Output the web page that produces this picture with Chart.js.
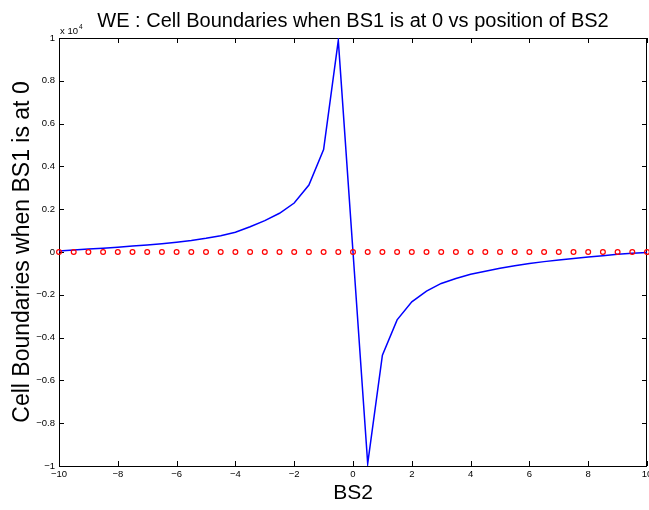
<!DOCTYPE html>
<html>
<head>
<meta charset="utf-8">
<script src="https://cdn.jsdelivr.net/npm/chart.js@4.4.0/dist/chart.umd.min.js"></script>
<style>
  html, body { margin: 0; padding: 0; background: #ffffff; }
  #wrap { width: 649px; height: 510px; }
</style>
</head>
<body>
<div id="wrap"><canvas id="c" width="649" height="510"></canvas></div>
<script>
const xValues = [-10, -9.5, -9, -8.5, -8, -7.5, -7, -6.5, -6, -5.5, -5, -4.5, -4, -3.5, -3, -2.5, -2, -1.5, -1, -0.5,
                 0, 0.5, 1, 1.5, 2, 2.5, 3, 3.5, 4, 4.5, 5, 5.5, 6, 6.5, 7, 7.5, 8, 8.5, 9, 9.5, 10];
const boundaryValues = [50, 90, 140, 180, 225, 275, 330, 390, 460, 540, 640, 760, 920, 1180, 1465, 1810, 2290, 3130, 4790, 9890,
                        0, -9890, -4820, -3170, -2330, -1830, -1470, -1240, -1040, -900, -760, -640, -540, -450, -370, -300, -230, -170, -110, -60, -20];
const markerValues = [0, 0, 0, 0, 0, 0, 0, 0, 0, 0, 0, 0, 0, 0, 0, 0, 0, 0, 0, 0,
                      0, 0, 0, 0, 0, 0, 0, 0, 0, 0, 0, 0, 0, 0, 0, 0, 0, 0, 0, 0, 0];
const xTickValues = [-10, -8, -6, -4, -2, 0, 2, 4, 6, 8, 10];
const yTickValues = [-10000, -8000, -6000, -4000, -2000, 0, 2000, 4000, 6000, 8000, 10000];

const titleText = 'WE : Cell Boundaries when BS1 is at 0 vs position of BS2';
const xTitle = 'BS2';
const yTitle = 'Cell Boundaries when BS1 is at 0';
const FONT = '"Liberation Sans", Arial, Helvetica, sans-serif';

function fmt(v) {
  return String(v).replace('-', '\u2212');
}

const boxPlugin = {
  id: 'matlabBox',
  beforeDatasetsDraw(chart) {
    const {ctx, chartArea: a, scales} = chart;
    ctx.save();
    ctx.strokeStyle = '#000';
    ctx.lineWidth = 1;
    ctx.strokeRect(a.left + 0.5, a.top + 0.5, a.right - a.left - 1, a.bottom - a.top);
    const tl = 5;
    ctx.beginPath();
    scales.x.ticks.forEach(t => {
      const px = Math.round(scales.x.getPixelForValue(t.value)) + 0.5;
      ctx.moveTo(px, a.bottom); ctx.lineTo(px, a.bottom - tl);
      ctx.moveTo(px, a.top); ctx.lineTo(px, a.top + tl);
    });
    scales.y.ticks.forEach(t => {
      const py = Math.round(scales.y.getPixelForValue(t.value)) + 0.5;
      ctx.moveTo(a.left, py); ctx.lineTo(a.left + tl, py);
      ctx.moveTo(a.right, py); ctx.lineTo(a.right - tl, py);
    });
    ctx.stroke();
    // x tick labels
    ctx.fillStyle = '#000';
    ctx.font = '9.5px ' + FONT;
    ctx.textAlign = 'center';
    ctx.textBaseline = 'top';
    scales.x.ticks.forEach(t => {
      const px = scales.x.getPixelForValue(t.value);
      ctx.fillText(fmt(t.value), px, a.bottom + 4);
    });
    ctx.restore();
  },
  afterDraw(chart) {
    const {ctx, chartArea: a} = chart;
    ctx.save();
    ctx.fillStyle = '#000';
    ctx.textBaseline = 'alphabetic';
    ctx.textAlign = 'center';
    ctx.font = '20px ' + FONT;
    ctx.fillText(titleText, (a.left + a.right) / 2, 27);
    ctx.textAlign = 'left';
    ctx.font = '9.5px ' + FONT;
    ctx.fillText('x 10', a.left + 1, 34);
    const w = ctx.measureText('x 10').width;
    ctx.font = '6.5px ' + FONT;
    ctx.fillText('4', a.left + 1 + w + 1, 29);
    ctx.restore();
  }
};

new Chart(document.getElementById('c'), {
  type: 'scatter',
  data: {
    datasets: [
      {
        label: 'markers',
        data: xValues.map((x, i) => ({x: x, y: markerValues[i]})),
        showLine: false,
        pointRadius: 2.4,
        pointBorderWidth: 1.2,
        pointBorderColor: '#ff0000',
        pointBackgroundColor: 'rgba(255,255,255,0)',
        pointStyle: 'circle',
        clip: false,
        order: 0
      },
      {
        label: 'boundary',
        data: xValues.map((x, i) => ({x: x, y: boundaryValues[i]})),
        showLine: true,
        borderColor: '#0000ff',
        borderWidth: 1.5,
        pointRadius: 0,
        tension: 0,
        fill: false,
        order: 1
      }
    ]
  },
  options: {
    responsive: false,
    animation: false,
    devicePixelRatio: 1,
    layout: { autoPadding: false, padding: { top: 38, right: 2, left: 0, bottom: 0 } },
    plugins: { legend: { display: false }, tooltip: { enabled: false }, title: { display: false } },
    scales: {
      x: {
        type: 'linear',
        min: -10, max: 10,
        afterBuildTicks: s => { s.ticks = xTickValues.map(v => ({value: v})); },
        afterFit: s => { s.height = 44; s.paddingLeft = 0; s.paddingRight = 0; },
        grid: { display: false, drawTicks: false },
        border: { display: false },
        ticks: { display: false },
        title: { display: true, text: xTitle, color: '#000', font: { family: FONT, size: 21 }, padding: { top: 0, bottom: 4 } }
      },
      y: {
        type: 'linear',
        min: -10000, max: 10000,
        afterBuildTicks: s => { s.ticks = yTickValues.map(v => ({value: v})); },
        afterFit: s => { s.width = 59; s.paddingTop = 0; s.paddingBottom = 0; },
        grid: { display: false, drawTicks: false },
        border: { display: false },
        ticks: {
          color: '#000', padding: 4, autoSkip: false,
          font: { family: FONT, size: 9.5 },
          callback: v => fmt(v / 10000)
        },
        title: { display: true, text: yTitle, color: '#000', font: { family: FONT, size: 23 }, padding: { top: 9, bottom: 0 } }
      }
    }
  },
  plugins: [boxPlugin]
});
</script>
</body>
</html>
